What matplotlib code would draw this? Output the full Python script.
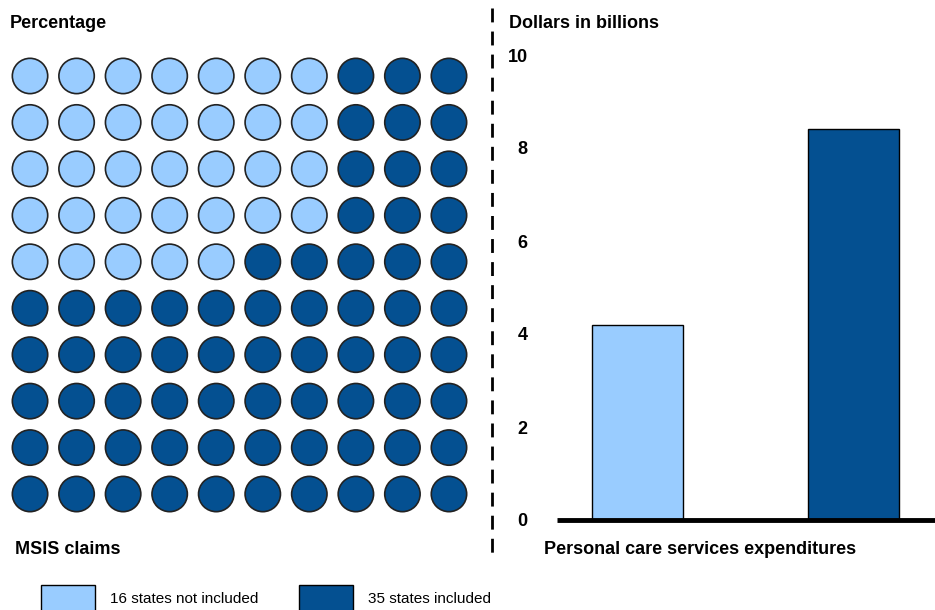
import matplotlib
matplotlib.use("Agg")
import matplotlib.pyplot as plt
from matplotlib.patches import Circle, Patch
from matplotlib.lines import Line2D

plt.rcParams['font.family'] = ['Liberation Sans', 'DejaVu Sans']

# Data
series_labels = ["16 states not included", "35 states included"]
colors = ["#99CCFF", "#045091"]
# Waffle: number of light circles in each row (top to bottom), 10 per row
light_per_row = [7, 7, 7, 7, 5, 0, 0, 0, 0, 0]
n_cols = 10
bar_values = [4.2, 8.4]
y_ticks = [0, 2, 4, 6, 8, 10]

W, H = 935, 610
fig = plt.figure(figsize=(W / 100, H / 100), dpi=100)

def fx(px):
    return px / W

def fy(py):
    return 1 - py / H

# Waffle axes
wl, wr, wt, wb = 6.75, 472.25, 52.75, 517.25
axw = fig.add_axes([fx(wl), fy(wb), fx(wr - wl), (wb - wt) / H])
axw.set_xlim(-0.5, n_cols - 0.5)
axw.set_ylim(len(light_per_row) - 0.5, -0.5)
axw.axis('off')
for r, nl in enumerate(light_per_row):
    for c in range(n_cols):
        col = colors[0] if c < nl else colors[1]
        axw.add_patch(Circle((c, r), 0.38, facecolor=col, edgecolor='#222222', lw=1.2))

# Bar axes
bl, br, bt, bb = 557, 935, 55, 520
axb = fig.add_axes([fx(bl), fy(bb), fx(br - bl), (bb - bt) / H])
axb.bar([0, 1], bar_values, width=0.42, color=colors, edgecolor='black', linewidth=1)
axb.set_xlim(-0.373, 1.377)
axb.set_ylim(0, 10)
axb.set_yticks(y_ticks)
axb.set_yticklabels([str(t) for t in y_ticks], fontsize=13, fontweight='bold')
axb.tick_params(axis='y', length=0, pad=21)
axb.tick_params(axis='x', length=0, labelbottom=False)
for s in ['top', 'right', 'left']:
    axb.spines[s].set_visible(False)
axb.spines['bottom'].set_linewidth(3.5)
axb.spines['bottom'].set_capstyle('butt')

# Dashed divider
fig.add_artist(Line2D([fx(492), fx(492)], [fy(8), fy(556)], color='black',
                      lw=2, linestyle=(0, (5, 3.3))))

# Texts
fig.text(fx(10), fy(24), "Percentage", fontsize=13, fontweight='bold', va='center', ha='left')
fig.text(fx(509), fy(24), "Dollars in billions", fontsize=13, fontweight='bold', va='center', ha='left')
fig.text(fx(15), fy(549), "MSIS claims", fontsize=13, fontweight='bold', va='center', ha='left')
fig.text(fx(544), fy(549), "Personal care services expenditures", fontsize=13, fontweight='bold', va='center', ha='left')

# Legend
handles = [Patch(facecolor=colors[i], edgecolor='black', lw=1, label=series_labels[i]) for i in range(2)]
fig.legend(handles=handles, loc='upper left', bbox_to_anchor=(fx(35), fy(579)), ncol=2,
           frameon=False, fontsize=11, handlelength=3.5, handleheight=2.3,
           handletextpad=1.0, columnspacing=2.7, borderaxespad=0)

fig.savefig("out.png", dpi=100)
